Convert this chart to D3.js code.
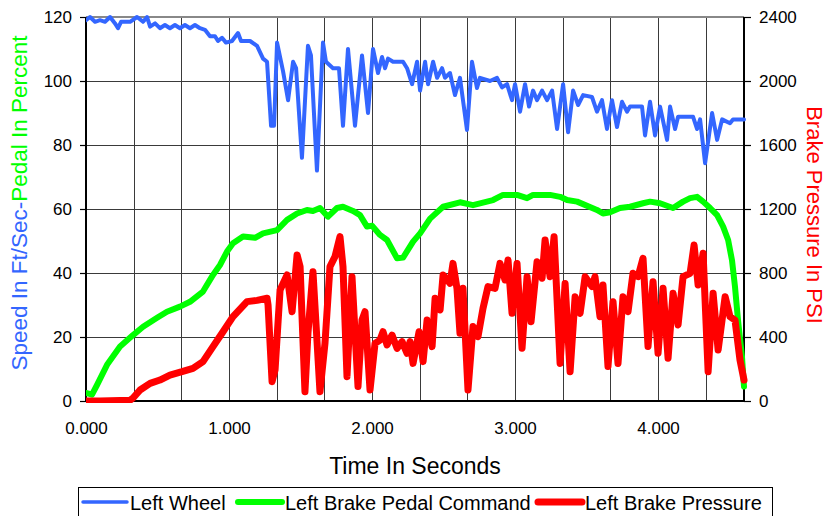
<!DOCTYPE html>
<html><head><meta charset="utf-8">
<script src="https://cdn.jsdelivr.net/npm/d3@7"></script>
<style>body{margin:0;background:#fff}svg{display:block;font-family:"Liberation Sans",Arial,sans-serif}</style>
</head><body><svg id="c" width="835" height="516"></svg>
<script>
// ---- data ----
const wheelTime = [0,0.028,0.063,0.098,0.133,0.168,0.203,0.224,0.245,0.308,0.357,0.399,0.427,0.448,0.483,0.517,0.552,0.587,0.622,0.657,0.692,0.727,0.762,0.797,0.832,0.867,0.902,0.923,0.951,0.979,1.021,1.063,1.084,1.147,1.196,1.238,1.266,1.294,1.315,1.336,1.378,1.413,1.448,1.469,1.510,1.552,1.573,1.615,1.657,1.678,1.727,1.769,1.797,1.832,1.881,1.930,1.972,2.007,2.042,2.070,2.091,2.112,2.147,2.217,2.245,2.280,2.315,2.336,2.371,2.392,2.427,2.455,2.490,2.510,2.545,2.580,2.615,2.664,2.699,2.734,2.755,2.825,2.874,2.909,2.944,2.979,3.000,3.035,3.070,3.098,3.126,3.154,3.189,3.224,3.259,3.294,3.336,3.371,3.406,3.441,3.476,3.538,3.573,3.608,3.643,3.678,3.713,3.748,3.783,3.804,3.888,3.909,3.944,3.979,4.014,4.063,4.084,4.119,4.140,4.245,4.273,4.294,4.329,4.378,4.413,4.448,4.503,4.524,4.601];
const wheelSpeed = [119,120,118.5,119,118.5,120,118,116.5,118.5,118.5,120,118.5,120,117,118,116.5,117.5,116.5,117.5,116.5,117.5,116.5,117.5,116.5,116,114,114,112.5,113.5,112,112.5,115,112.5,112.5,111,107,106,86,86,112,103,94,106,104,76,111,108,72,112,106,104,104,86,110,86,108,90,110,102.5,107.5,104,107,106,106,104,99,106,97,106,99,106,101,104,101,102.5,95.6,101,84.7,106,97.8,101,100,101,98,99,94,99,90.4,99,92,97,94,97,94,97,85,99,84,97,92.5,95.6,95,90.4,94,85,94,85.6,93.5,90.4,92,92,83,93.5,83,92,81.6,92,85,88.8,88.8,85,88,74.3,90,81.6,88,86.8,88,88];

const pedalTime = [0,0.042,0.077,0.147,0.238,0.329,0.399,0.497,0.566,0.657,0.727,0.818,0.888,0.937,0.986,1.028,1.098,1.182,1.238,1.336,1.406,1.476,1.545,1.587,1.636,1.692,1.755,1.797,1.867,1.916,1.965,2.000,2.056,2.105,2.175,2.217,2.287,2.336,2.406,2.497,2.615,2.706,2.846,2.916,3.014,3.084,3.126,3.245,3.315,3.364,3.434,3.573,3.615,3.664,3.734,3.804,3.895,3.944,4.014,4.105,4.175,4.224,4.273,4.315,4.364,4.413,4.455,4.490,4.517,4.538,4.559,4.587,4.601];
const pedalPercent = [2.5,2,5,11.3,17,20.6,23.2,26,27.9,29.5,31,34.2,39.4,42.5,46.7,49.3,51.4,51,52.4,53.4,56.6,58.6,59.7,59.4,60.3,57.6,60.3,60.7,59.4,58.1,54.5,54.8,51.9,50.3,44.6,44.8,49.8,52.4,57,60.7,62.1,61.2,62.8,64.4,64.4,63.4,64.4,64.4,63.8,62.8,62.3,59.7,58.6,59,60.3,60.7,61.8,62.3,61.8,60.3,62.3,63.4,63.8,62.3,60.3,58.1,54.5,50.3,44,35.7,25.3,13.8,4.5];

const pressureTime = [0,0.098,0.308,0.329,0.378,0.448,0.517,0.587,0.671,0.748,0.818,0.888,0.958,1.028,1.126,1.196,1.266,1.273,1.301,1.322,1.357,1.406,1.441,1.476,1.497,1.531,1.552,1.587,1.636,1.671,1.706,1.741,1.776,1.797,1.825,1.860,1.881,1.902,1.930,1.951,1.986,2.021,2.056,2.077,2.105,2.140,2.175,2.210,2.245,2.266,2.287,2.329,2.357,2.385,2.420,2.441,2.476,2.497,2.545,2.566,2.594,2.615,2.636,2.671,2.706,2.741,2.776,2.811,2.860,2.895,2.930,2.951,2.979,3.014,3.049,3.084,3.112,3.154,3.189,3.210,3.245,3.273,3.315,3.350,3.385,3.420,3.455,3.490,3.538,3.559,3.594,3.615,3.650,3.685,3.720,3.755,3.790,3.825,3.860,3.895,3.930,3.965,4.000,4.035,4.070,4.105,4.140,4.175,4.224,4.252,4.280,4.315,4.350,4.385,4.420,4.469,4.503,4.538,4.573,4.601];
const pressurePsi = [0,0,5,19,69,110,131,162,183,204,246,340,433,527,621,629,642,600,121,194,694,788,558,913,840,58,423,808,58,360,840,902,1027,840,152,777,433,90,506,558,69,360,381,433,350,412,329,371,298,371,235,433,246,506,340,642,569,788,735,860,704,423,704,69,465,402,579,715,704,860,756,881,548,860,329,777,496,871,767,1006,777,1027,235,735,183,652,548,777,715,777,527,725,215,621,235,652,558,798,777,892,340,746,298,704,267,673,475,777,798,975,725,923,183,673,319,652,527,506,256,131];

const xTickValues = [0,1,2,3,4];
const leftTickValues = [0,20,40,60,80,100,120];
const rightTickValues = [0,400,800,1200,1600,2000,2400];
const seriesNames = ["Left Wheel","Left Brake Pedal Command","Left Brake Pressure"];
const seriesColors = ["#3366FF","#00FF00","#FF0000"];
const xTitle = "Time In Seconds";
const leftTitleParts = ["Speed In Ft/Sec-","Pedal In Percent"];
const rightTitle = "Brake Pressure In PSI";

// ---- layout ----
const svg = d3.select("#c");
const L = 86, R = 744, T = 17, B = 401;
const x = d3.scaleLinear().domain([0, 4.601]).range([L, R]);
const yL = d3.scaleLinear().domain([0, 120]).range([B, T]);
const yR = d3.scaleLinear().domain([0, 2400]).range([B, T]);

svg.append("rect").attr("width",835).attr("height",516).attr("fill","#fff");

// grid
const vTicks = d3.range(1, 14).map(k => k/3);
svg.append("g").selectAll("line").data(vTicks).join("line")
  .attr("x1", d => Math.round(x(d))+0.5).attr("x2", d => Math.round(x(d))+0.5)
  .attr("y1", T).attr("y2", B).attr("stroke","#3a3a3a").attr("stroke-width",1);
svg.append("g").selectAll("line").data(leftTickValues.slice(1,-1)).join("line")
  .attr("x1", L).attr("x2", R)
  .attr("y1", d => Math.round(yL(d))+0.5).attr("y2", d => Math.round(yL(d))+0.5)
  .attr("stroke","#3a3a3a").attr("stroke-width",1);
// top border
svg.append("line").attr("x1",L).attr("x2",R).attr("y1",T).attr("y2",T).attr("stroke","#888").attr("stroke-width",2);

// axes
const fmtX = d3.format(".3f");
const fmtY = d3.format("d");
const axB = svg.append("g").attr("transform",`translate(0,${B})`)
  .call(d3.axisBottom(x).tickValues(xTickValues).tickSize(0).tickFormat(fmtX).tickPadding(21));
const axL = svg.append("g").attr("transform",`translate(${L},0)`)
  .call(d3.axisLeft(yL).tickValues(leftTickValues).tickSize(6).tickPadding(8).tickFormat(fmtY));
const axR = svg.append("g").attr("transform",`translate(${R},0)`)
  .call(d3.axisRight(yR).tickValues(rightTickValues).tickSize(7).tickPadding(8).tickFormat(fmtY));
[axB, axL, axR].forEach(a => {
  a.select(".domain").attr("stroke","#000").attr("stroke-width",2);
  a.selectAll(".tick line").attr("stroke","#000").attr("stroke-width",1.2);
  a.selectAll("text").attr("font-size",17).attr("fill","#000")
    .attr("font-family",'"Liberation Sans",Arial,sans-serif');
});
axB.select(".domain").attr("d", `M${L},0H${R}`);
axL.select(".domain").attr("d", `M0,${T}V${B}`);
axR.select(".domain").attr("d", `M0,${T}V${B}`);

// lines
svg.append("clipPath").attr("id","pc").append("rect")
  .attr("x", L).attr("y", T-10).attr("width", R-L+4).attr("height", B-T+12);
const lineL = d3.line().x(d => x(d[0])).y(d => yL(d[1]));
const lineR = d3.line().x(d => x(d[0])).y(d => yR(d[1]));
const gLines = svg.append("g").attr("clip-path","url(#pc)").attr("fill","none")
  .attr("stroke-linejoin","round").attr("stroke-linecap","round");
gLines.append("path").attr("d", lineL(d3.zip(wheelTime, wheelSpeed)))
  .attr("stroke", seriesColors[0]).attr("stroke-width", 4);
gLines.append("path").attr("d", lineL(d3.zip(pedalTime, pedalPercent)))
  .attr("stroke", seriesColors[1]).attr("stroke-width", 6);
gLines.append("path").attr("d", lineR(d3.zip(pressureTime, pressurePsi)))
  .attr("stroke", seriesColors[2]).attr("stroke-width", 7);

// titles
svg.append("text").attr("x", (L+R)/2).attr("y", 474).attr("text-anchor","middle")
  .attr("font-size", 23).attr("fill","#000").text(xTitle);
const lt = svg.append("text").attr("transform", `translate(27,${(T+B)/2 - 6}) rotate(-90)`)
  .attr("text-anchor","middle").attr("font-size", 22.5);
lt.append("tspan").attr("fill", seriesColors[0]).text(leftTitleParts[0]);
lt.append("tspan").attr("fill", seriesColors[1]).text(leftTitleParts[1]);
svg.append("text").attr("transform", `translate(807,${(T+B)/2 + 6}) rotate(90)`)
  .attr("text-anchor","middle").attr("font-size", 22).attr("fill", seriesColors[2]).text(rightTitle);

// legend
svg.append("rect").attr("x", 78.5).attr("y", 487.5).attr("width", 694).attr("height", 40)
  .attr("fill","#fff").attr("stroke","#000").attr("stroke-width",1);
const legX = [83, 238, 538];
const legW = [3.5, 6, 7];
const lg = svg.append("g").selectAll("g").data(seriesNames).join("g")
  .attr("transform", (d,i) => `translate(${legX[i]},502)`);
lg.append("line").attr("x1",0).attr("x2",44).attr("y1",0).attr("y2",0)
  .attr("stroke",(d,i)=>seriesColors[i]).attr("stroke-width",(d,i)=>legW[i]).attr("stroke-linecap","round");
lg.append("text").attr("x",47).attr("y",8).attr("font-size",20).attr("fill","#000").text(d=>d);
</script></body></html>
